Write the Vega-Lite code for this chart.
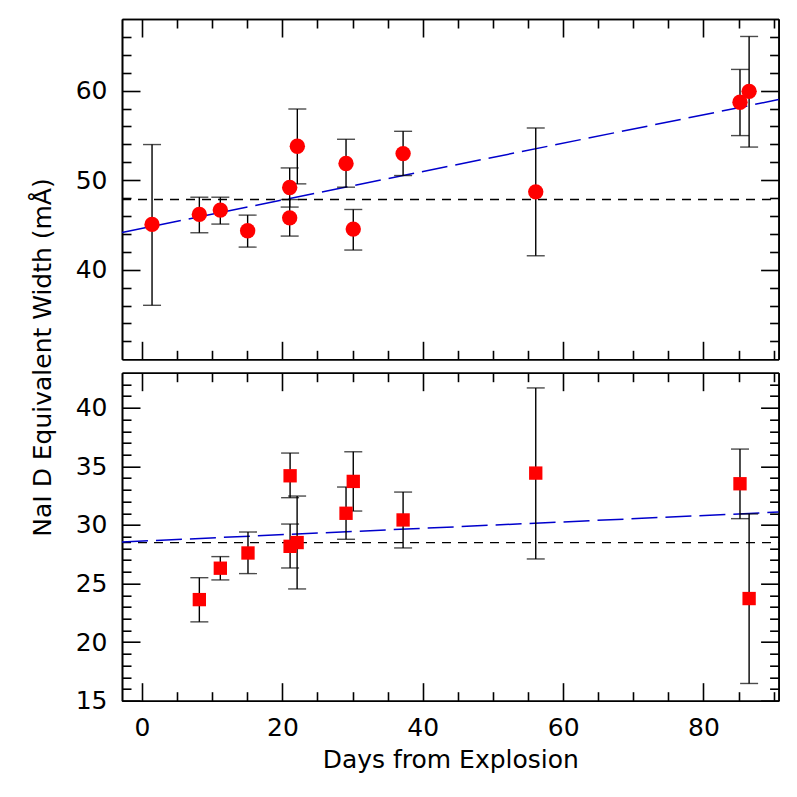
{
  "$schema": "https://vega.github.io/schema/vega-lite/v6.json",
  "padding": {"left": 30, "top": 18, "right": 5, "bottom": 5},
  "bounds": "flush",
  "spacing": 12.7,
  "config": {
    "view": {"stroke": null},
    "axis": {
      "grid": false,
      "domainColor": "black",
      "domainWidth": 1.6,
      "tickColor": "black",
      "tickWidth": 1.6,
      "labelFont": "DejaVu Sans",
      "labelFontSize": 25,
      "labelColor": "black",
      "labelFlush": false,
      "labelOverlap": false,
      "titleFont": "DejaVu Sans",
      "titleFontSize": 25,
      "titleFontWeight": "normal",
      "titleColor": "black"
    }
  },
  "datasets": {
    "top": [
      {"day": 1.43, "ew": 45.06, "lo": 36.03, "hi": 53.98},
      {"day": 8.17, "ew": 46.18, "lo": 44.13, "hi": 48.1},
      {"day": 11.16, "ew": 46.66, "lo": 45.1, "hi": 48.1},
      {"day": 15.05, "ew": 44.35, "lo": 42.53, "hi": 46.1},
      {"day": 21.04, "ew": 49.19, "lo": 47.0, "hi": 51.37},
      {"day": 21.04, "ew": 45.8, "lo": 43.76, "hi": 47.84},
      {"day": 22.13, "ew": 53.79, "lo": 49.59, "hi": 57.95},
      {"day": 29.07, "ew": 51.86, "lo": 49.22, "hi": 54.57},
      {"day": 30.1, "ew": 44.54, "lo": 42.2, "hi": 46.73},
      {"day": 37.2, "ew": 52.97, "lo": 50.52, "hi": 55.46},
      {"day": 56.1, "ew": 48.7, "lo": 41.56, "hi": 55.83},
      {"day": 85.2, "ew": 58.7, "lo": 54.98, "hi": 62.37},
      {"day": 86.5, "ew": 59.92, "lo": 53.7, "hi": 66.05}
    ],
    "bot": [
      {"day": 8.17, "ew": 23.63, "lo": 21.73, "hi": 25.5},
      {"day": 11.16, "ew": 26.31, "lo": 25.31, "hi": 27.3},
      {"day": 15.1, "ew": 27.61, "lo": 25.85, "hi": 29.4},
      {"day": 21.1, "ew": 34.2, "lo": 32.33, "hi": 36.14},
      {"day": 21.1, "ew": 28.18, "lo": 26.33, "hi": 30.08},
      {"day": 22.1, "ew": 28.5, "lo": 24.54, "hi": 32.47},
      {"day": 29.07, "ew": 31.0, "lo": 28.78, "hi": 33.24},
      {"day": 30.1, "ew": 33.72, "lo": 31.19, "hi": 36.25},
      {"day": 37.2, "ew": 30.43, "lo": 28.04, "hi": 32.81},
      {"day": 56.1, "ew": 34.43, "lo": 27.1, "hi": 41.7},
      {"day": 85.2, "ew": 33.52, "lo": 30.54, "hi": 36.48},
      {"day": 86.5, "ew": 23.72, "lo": 16.47, "hi": 30.94}
    ],
    "topLines": [
      {"day": -2.85, "fit": 44.17, "mean": 47.85},
      {"day": 90.7, "fit": 59.0, "mean": 47.85}
    ],
    "botLines": [
      {"day": -2.85, "fit": 28.55, "mean": 28.49},
      {"day": 90.7, "fit": 31.1, "mean": 28.49}
    ]
  },
  "vconcat": [
    {
      "width": 656.6,
      "height": 340.3,
      "resolve": {"axis": {"x": "independent", "y": "independent"}},
      "layer": [
        {
          "data": {"name": "topLines"},
          "mark": {"type": "line", "color": "black", "strokeDash": [9, 7], "strokeWidth": 1.4},
          "encoding": {
            "x": {"field": "day", "type": "quantitative", "scale": {"domain": [-2.85, 90.7], "nice": false, "zero": false},
                  "axis": {"orient": "top", "values": [5, 10, 15, 25, 30, 35, 45, 50, 55, 65, 70, 75, 85, 90], "labels": false, "tickSize": -9, "title": null}},
            "y": {"field": "mean", "type": "quantitative", "scale": {"domain": [30, 68], "nice": false, "zero": false},
                  "axis": {"orient": "right", "values": [32, 34, 36, 38, 42, 44, 46, 48, 52, 54, 56, 58, 62, 64, 66], "labels": false, "tickSize": -9, "title": null}}
          }
        },
        {
          "data": {"name": "topLines"},
          "mark": {"type": "line", "color": "#0000cc", "strokeDash": [26, 8], "strokeWidth": 1.5},
          "encoding": {
            "x": {"field": "day", "type": "quantitative",
                  "axis": {"orient": "bottom", "values": [5, 10, 15, 25, 30, 35, 45, 50, 55, 65, 70, 75, 85, 90], "labels": false, "tickSize": -9, "title": null}},
            "y": {"field": "fit", "type": "quantitative",
                  "axis": {"orient": "left", "values": [32, 34, 36, 38, 42, 44, 46, 48, 52, 54, 56, 58, 62, 64, 66], "labels": false, "tickSize": -9, "title": null}}
          }
        },
        {
          "data": {"name": "top"},
          "mark": {"type": "rule", "color": "black", "strokeWidth": 1.4},
          "encoding": {
            "x": {"field": "day", "type": "quantitative",
                  "axis": {"orient": "top", "values": [0, 20, 40, 60, 80], "labels": false, "tickSize": -18, "title": null}},
            "y": {"field": "lo", "type": "quantitative",
                  "axis": {"orient": "right", "values": [40, 50, 60], "labels": false, "tickSize": -18, "title": null}},
            "y2": {"field": "hi"}
          }
        },
        {
          "data": {"name": "top"},
          "mark": {"type": "tick", "orient": "horizontal", "color": "black", "size": 18, "thickness": 1.4},
          "encoding": {
            "x": {"field": "day", "type": "quantitative", "axis": null},
            "y": {"field": "lo", "type": "quantitative", "axis": null}
          }
        },
        {
          "data": {"name": "top"},
          "mark": {"type": "tick", "orient": "horizontal", "color": "black", "size": 18, "thickness": 1.4},
          "encoding": {
            "x": {"field": "day", "type": "quantitative", "axis": null},
            "y": {"field": "hi", "type": "quantitative", "axis": null}
          }
        },
        {
          "data": {"name": "top"},
          "mark": {"type": "circle", "color": "red", "size": 236, "opacity": 1},
          "encoding": {
            "x": {"field": "day", "type": "quantitative",
                  "axis": {"orient": "bottom", "values": [0, 20, 40, 60, 80], "labels": false, "tickSize": -18, "title": null}},
            "y": {"field": "ew", "type": "quantitative",
                  "axis": {"orient": "left", "values": [40, 50, 60], "tickSize": -18, "labelPadding": 33,
                           "title": "NaI D Equivalent Width (mÅ)", "titleAngle": 270, "titleBaseline": "alphabetic",
                           "titleAlign": "center", "titleX": -71.5, "titleY": 338}}
          }
        }
      ]
    },
    {
      "width": 656.6,
      "height": 328,
      "resolve": {"axis": {"x": "independent", "y": "independent"}},
      "layer": [
        {
          "data": {"name": "botLines"},
          "mark": {"type": "line", "color": "black", "strokeDash": [9, 7], "strokeWidth": 1.4},
          "encoding": {
            "x": {"field": "day", "type": "quantitative", "scale": {"domain": [-2.85, 90.7], "nice": false, "zero": false},
                  "axis": {"orient": "top", "values": [5, 10, 15, 25, 30, 35, 45, 50, 55, 65, 70, 75, 85, 90], "labels": false, "tickSize": -9, "title": null}},
            "y": {"field": "mean", "type": "quantitative", "scale": {"domain": [15, 43], "nice": false, "zero": false},
                  "axis": {"orient": "right", "values": [16, 17, 18, 19, 21, 22, 23, 24, 26, 27, 28, 29, 31, 32, 33, 34, 36, 37, 38, 39, 41, 42], "labels": false, "tickSize": -9, "title": null}}
          }
        },
        {
          "data": {"name": "botLines"},
          "mark": {"type": "line", "color": "#0000cc", "strokeDash": [26, 8], "strokeWidth": 1.5},
          "encoding": {
            "x": {"field": "day", "type": "quantitative",
                  "axis": {"orient": "bottom", "values": [5, 10, 15, 25, 30, 35, 45, 50, 55, 65, 70, 75, 85, 90], "labels": false, "tickSize": -9, "title": null}},
            "y": {"field": "fit", "type": "quantitative",
                  "axis": {"orient": "left", "values": [16, 17, 18, 19, 21, 22, 23, 24, 26, 27, 28, 29, 31, 32, 33, 34, 36, 37, 38, 39, 41, 42], "labels": false, "tickSize": -9, "title": null}}
          }
        },
        {
          "data": {"name": "bot"},
          "mark": {"type": "rule", "color": "black", "strokeWidth": 1.4},
          "encoding": {
            "x": {"field": "day", "type": "quantitative",
                  "axis": {"orient": "top", "values": [0, 20, 40, 60, 80], "labels": false, "tickSize": -18, "title": null}},
            "y": {"field": "lo", "type": "quantitative",
                  "axis": {"orient": "right", "values": [15, 20, 25, 30, 35, 40], "labels": false, "tickSize": -18, "title": null}},
            "y2": {"field": "hi"}
          }
        },
        {
          "data": {"name": "bot"},
          "mark": {"type": "tick", "orient": "horizontal", "color": "black", "size": 18, "thickness": 1.4},
          "encoding": {
            "x": {"field": "day", "type": "quantitative", "axis": null},
            "y": {"field": "lo", "type": "quantitative", "axis": null}
          }
        },
        {
          "data": {"name": "bot"},
          "mark": {"type": "tick", "orient": "horizontal", "color": "black", "size": 18, "thickness": 1.4},
          "encoding": {
            "x": {"field": "day", "type": "quantitative", "axis": null},
            "y": {"field": "hi", "type": "quantitative", "axis": null}
          }
        },
        {
          "data": {"name": "bot"},
          "mark": {"type": "square", "color": "red", "size": 178, "opacity": 1},
          "encoding": {
            "x": {"field": "day", "type": "quantitative",
                  "axis": {"orient": "bottom", "values": [0, 20, 40, 60, 80], "tickSize": -18, "labelPadding": 33,
                           "title": "Days from Explosion", "titleBaseline": "alphabetic", "titleY": 66.8}},
            "y": {"field": "ew", "type": "quantitative",
                  "axis": {"orient": "left", "values": [15, 20, 25, 30, 35, 40], "tickSize": -18, "labelPadding": 33, "title": null}}
          }
        }
      ]
    }
  ]
}
